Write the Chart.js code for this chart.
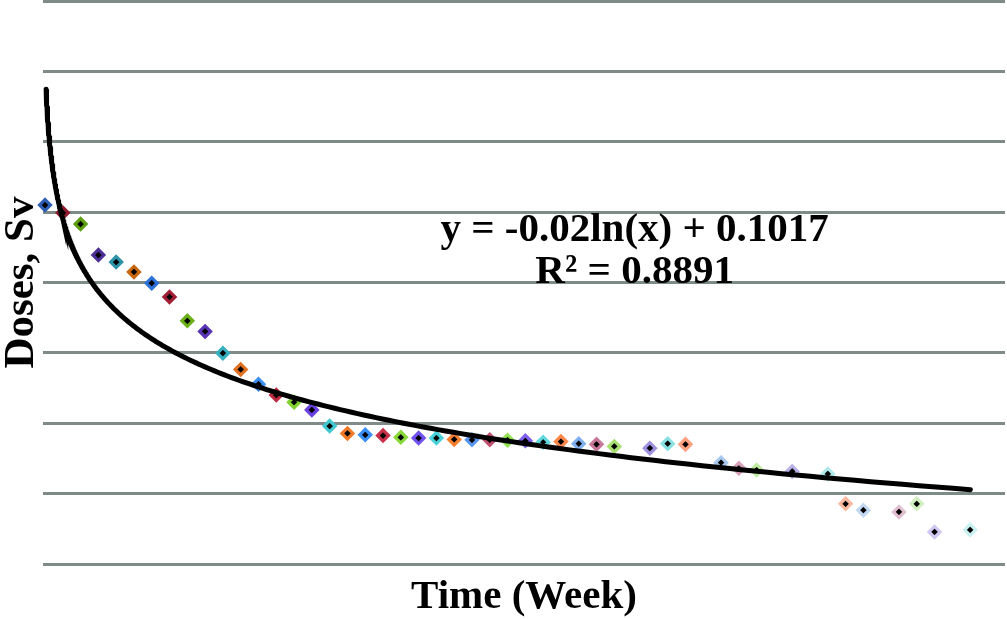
<!DOCTYPE html>
<html lang="en">
<head>
<meta charset="UTF-8">
<script src="https://cdn.jsdelivr.net/npm/chart.js"></script>
<title>Doses over time</title>
<style>
  * { margin: 0; padding: 0; box-sizing: border-box; }
  body { background: #fff; }
  #doseChart { display: block; }
</style>
</head>
<body>
<canvas id="doseChart" width="1007" height="619"></canvas>
<script>
// setup block
const weeks = [1, 2, 3, 4, 5, 6, 7, 8, 9, 10, 11, 12, 13, 14, 15, 16, 17, 18, 19, 20,
  21, 22, 23, 24, 25, 26, 27, 28, 29, 30, 31, 32, 33, 35, 36, 37, 39, 40, 41, 43,
  45, 46, 47, 49, 50, 51, 53];
const doses = [0.1020, 0.0998, 0.0966, 0.0878, 0.0858, 0.0830, 0.0798, 0.0759, 0.0691, 0.0661,
  0.0599, 0.0553, 0.0511, 0.0480, 0.0460, 0.0438, 0.0392, 0.0371, 0.0367, 0.0365,
  0.0360, 0.0358, 0.0358, 0.0354, 0.0353, 0.0353, 0.0352, 0.0350, 0.0346, 0.0348,
  0.0342, 0.0340, 0.0334, 0.0329, 0.0342, 0.0340, 0.0288, 0.0272, 0.0267, 0.0263,
  0.0256, 0.0171, 0.0153, 0.0148, 0.0171, 0.0091, 0.0097];

// log trendline as printed on the chart
const trendSlope = -0.02;
const trendIntercept = 0.1017;
const rSquared = 0.8891;
const trendFrom = 0.19;
const trendTo = 56.2;

// excel "vary colors by point"
const pointColors = [
  '#2F5FB5', '#8E1C30', '#5E9E12', '#4B2E96', '#2A94A6', '#C8680E',
  '#2C72D8', '#A31E35', '#6AB019', '#5A35B5', '#35B0C0', '#E07020',
  '#3A8FF0', '#C02840', '#80D030', '#6A40E0', '#40C8D0', '#F07A28',
  '#3A90F8', '#C83048', '#88D838', '#7050F0', '#48D0D8', '#F88030',
  '#5898F0', '#C05070', '#90E050', '#8060F0', '#60D8E0', '#FF8848',
  '#80B0F0', '#C87898', '#A8E070', '#A090E0', '#88E0E0', '#FFA080',
  '#A8C8F0', '#D8A0B8', '#C0EAA0', '#B8B0E8', '#B0E8E8', '#FFB8A0',
  '#C0D8F0', '#E0C0D0', '#D0F0C0', '#D0C8F0', '#C8F0F0'
];

const points = weeks.map((w, i) => ({ x: w, y: doses[i] }));

const trendPts = [];
for (let i = 0; i <= 300; i++) {
  const x = trendFrom * Math.pow(trendTo / trendFrom, i / 300);
  trendPts.push({ x: x, y: trendIntercept + trendSlope * Math.log(x) });
}

const serif = '"Liberation Serif", "Times New Roman", serif';

// plugin block
const equationLabel = {
  id: 'equationLabel',
  afterDatasetsDraw(chart) {
    const { ctx, chartArea } = chart;
    const cx = chartArea.left + chartArea.width * 0.615;
    ctx.save();
    ctx.font = 'bold 41px ' + serif;
    ctx.fillStyle = '#000';
    ctx.textAlign = 'center';
    ctx.textBaseline = 'alphabetic';
    ctx.fillText('y = ' + trendSlope + 'ln(x) + ' + trendIntercept, cx, 241);
    ctx.fillText('R\u00B2 = ' + rSquared, cx, 283);
    ctx.restore();
  }
};

// config block
const config = {
  type: 'scatter',
  data: {
    datasets: [{
      label: 'Doses',
      data: points,
      xAxisID: 'x',
      pointStyle: 'rectRot',
      pointRadius: 5.5,
      pointHoverRadius: 5.5,
      pointBorderWidth: 3.2,
      pointBackgroundColor: '#000',
      pointBorderColor: pointColors,
      clip: false,
      order: 2
    }, {
      type: 'line',
      label: 'Log trend',
      data: trendPts,
      xAxisID: 'xt',
      borderColor: '#000',
      borderWidth: 5,
      borderCapStyle: 'round',
      pointRadius: 0,
      tension: 0,
      fill: false,
      order: 1
    }]
  },
  options: {
    responsive: false,
    animation: false,
    layout: { autoPadding: false, padding: { top: 1, right: 2, left: 0, bottom: 0 } },
    plugins: {
      legend: { display: false },
      tooltip: { enabled: false }
    },
    scales: {
      x: {
        type: 'linear',
        min: 0.888,
        max: 54.96,
        grid: { display: false, drawTicks: false },
        border: { display: false },
        ticks: { display: false },
        title: {
          display: true,
          text: 'Time (Week)',
          color: '#000',
          font: { family: serif, size: 41, weight: 'bold', lineHeight: 1 },
          padding: { top: 13, bottom: 1 }
        }
      },
      xt: {
        type: 'linear',
        display: false,
        min: 0,
        max: 58.3
      },
      y: {
        min: 0,
        max: 0.16,
        ticks: { display: false, stepSize: 0.02 },
        border: { display: false },
        grid: { color: '#7E8B89', lineWidth: 3, drawTicks: false },
        title: {
          display: true,
          text: 'Doses, Sv',
          color: '#000',
          font: { family: serif, size: 43, weight: 'bold', lineHeight: 1 },
          padding: { top: 0, bottom: 0 }
        }
      }
    }
  },
  plugins: [equationLabel]
};

// render block
const doseChart = new Chart(document.getElementById('doseChart'), config);
</script>
</body>
</html>
